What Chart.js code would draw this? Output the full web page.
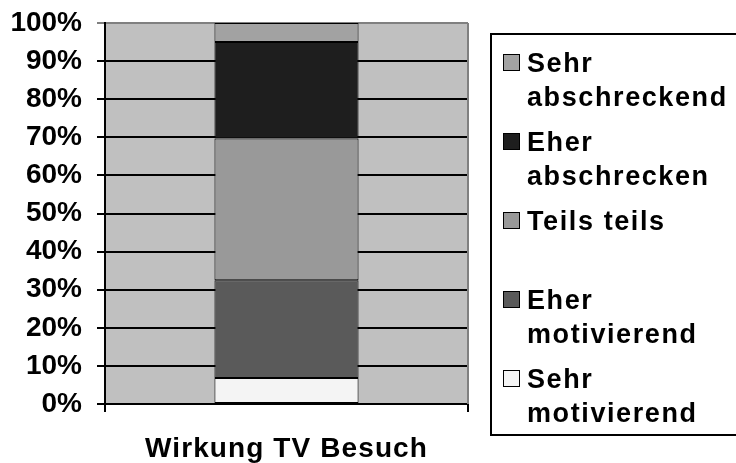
<!DOCTYPE html>
<html>
<head>
<meta charset="utf-8">
<script src="https://cdn.jsdelivr.net/npm/chart.js@4/dist/chart.umd.min.js"></script>
<style>
  html, body { margin: 0; padding: 0; background: #fff; }
  #wrap { width: 736px; height: 463px; }
</style>
</head>
<body>
<div id="wrap"><canvas id="myChart" width="736" height="463"></canvas></div>
<script>
// categories and series (percent of answers, stacked bottom to top)
var categories = ["Wirkung TV Besuch"];
var seriesNames = ["Sehr motivierend", "Eher motivierend", "Teils teils", "Eher abschrecken", "Sehr abschreckend"];
var seriesLines = [["Sehr", "motivierend"], ["Eher", "motivierend"], ["Teils teils"], ["Eher", "abschrecken"], ["Sehr", "abschreckend"]];
var sehrMotivierend = [6.8];
var eherMotivierend = [25.7];
var teilsTeils = [37.2];
var eherAbschrecken = [25.3];
var sehrAbschreckend = [5.0];
var seriesColors = ["#f4f4f4", "#5a5a5a", "#999999", "#1e1e1e", "#a2a2a2"];
var yTicks = [0, 10, 20, 30, 40, 50, 60, 70, 80, 90, 100];

var FONT = "'Liberation Sans', Arial, sans-serif";

var seriesData = [sehrMotivierend, eherMotivierend, teilsTeils, eherAbschrecken, sehrAbschreckend];
var datasets = [];
for (var i = 0; i < seriesNames.length; i++) {
    datasets.push({
        label: seriesNames[i],
        data: seriesData[i],
        backgroundColor: seriesColors[i],
        borderColor: "#000",
        borderWidth: 1,
        borderSkipped: false,
        barPercentage: 0.397,
        categoryPercentage: 1.0
    });
}

// grey plot background + grey right border
var plotBg = {
    id: "plotBg",
    beforeDraw: function(chart) {
        var a = chart.chartArea, ctx = chart.ctx;
        ctx.save();
        ctx.fillStyle = "#c0c0c0";
        ctx.fillRect(a.left, a.top, a.right - a.left, a.bottom - a.top);
        ctx.restore();
    },
    afterDatasetsDraw: function(chart) {
        var a = chart.chartArea, ctx = chart.ctx;
        ctx.save();
        ctx.strokeStyle = "#808080";
        ctx.lineWidth = 2;
        ctx.beginPath();
        ctx.moveTo(a.right, a.top);
        ctx.lineTo(a.right, a.bottom);
        ctx.stroke();
        ctx.restore();
    }
};

// category label under the bar, drawn with some letter spacing
var catLabel = {
    id: "catLabel",
    afterDraw: function(chart) {
        var ctx = chart.ctx;
        var xs = chart.scales.x;
        ctx.save();
        ctx.font = "bold 28px " + FONT;
        ctx.letterSpacing = "1.1px";
        ctx.fillStyle = "#000";
        ctx.textAlign = "center";
        ctx.textBaseline = "alphabetic";
        for (var i = 0; i < chart.data.labels.length; i++) {
            ctx.fillText(chart.data.labels[i], xs.getPixelForValue(i), 457);
        }
        ctx.restore();
    }
};

// legend box at the right, items top to bottom in reverse stack order
var boxLegend = {
    id: "boxLegend",
    afterDraw: function(chart) {
        var ctx = chart.ctx;
        ctx.save();
        ctx.strokeStyle = "#000";
        ctx.lineWidth = 2;
        ctx.strokeRect(491, 34, 260, 401);
        ctx.font = "bold 27px " + FONT;
        ctx.letterSpacing = "1.6px";
        ctx.textBaseline = "alphabetic";
        ctx.textAlign = "left";
        var ds = chart.data.datasets;
        var k = 0;
        for (var i = ds.length - 1; i >= 0; i--) {
            var base = 72 + k * 79;
            ctx.fillStyle = ds[i].backgroundColor;
            ctx.fillRect(503, base - 18, 17, 17);
            ctx.lineWidth = 1;
            ctx.strokeStyle = "#000";
            ctx.strokeRect(503.5, base - 17.5, 16, 16);
            ctx.fillStyle = "#000";
            var lines = seriesLines[i];
            for (var j = 0; j < lines.length; j++) {
                ctx.fillText(lines[j], 527, base + j * 34);
            }
            k++;
        }
        ctx.restore();
    }
};

Chart.defaults.font.family = FONT;
Chart.defaults.color = "#000";

var ctx = document.getElementById("myChart").getContext("2d");
var myChart = new Chart(ctx, {
    type: "bar",
    data: { labels: categories, datasets: datasets },
    options: {
        responsive: false,
        animation: false,
        layout: { padding: { top: 23, right: 268, left: 0, bottom: 0 } },
        plugins: {
            legend: { display: false },
            tooltip: { enabled: false }
        },
        scales: {
            x: {
                stacked: true,
                offset: true,
                afterFit: function(scale) { scale.height = 59; },
                grid: {
                    offset: true,
                    drawOnChartArea: false,
                    drawTicks: true,
                    tickLength: 8,
                    color: "#000",
                    lineWidth: 2
                },
                border: { color: "#000", width: 2 },
                ticks: { display: false }
            },
            y: {
                stacked: true,
                min: 0,
                max: 100,
                afterFit: function(scale) {
                    scale.width = 105;
                    scale.paddingTop = 0;
                    scale.paddingBottom = 0;
                },
                afterBuildTicks: function(scale) {
                    scale.ticks = yTicks.map(function(v) { return { value: v }; });
                },
                grid: {
                    color: function(c) { return c.tick && c.tick.value === 100 ? "#808080" : "#000"; },
                    lineWidth: 2,
                    tickLength: 8
                },
                border: { color: "#000", width: 2 },
                ticks: {
                    padding: 15,
                    font: { size: 28, weight: "bold", lineHeight: 0.8 },
                    callback: function(v) { return v + "%"; }
                }
            }
        }
    },
    plugins: [plotBg, catLabel, boxLegend]
});
</script>
</body>
</html>
